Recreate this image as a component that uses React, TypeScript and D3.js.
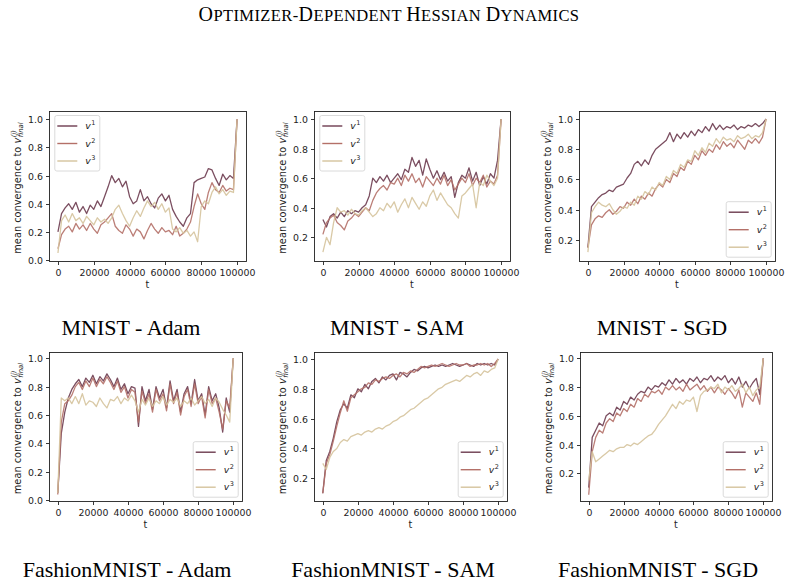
import React, { useRef, useEffect } from 'react';
import * as d3 from 'd3';

// training step at which each value was logged (every 2000 iterations)
const steps = d3.range(0, 100001, 2000);

// MNIST - Adam
const mnistAdamV1 = [
  0.20, 0.33, 0.37, 0.40, 0.36, 0.41, 0.34, 0.38, 0.33, 0.39,
  0.36, 0.42, 0.38, 0.45, 0.52, 0.60, 0.55, 0.58, 0.52, 0.56,
  0.45, 0.40, 0.42, 0.50, 0.42, 0.45, 0.40, 0.37, 0.44, 0.47,
  0.42, 0.46, 0.36, 0.31, 0.27, 0.24, 0.30, 0.33, 0.55, 0.57,
  0.58, 0.59, 0.65, 0.64, 0.58, 0.53, 0.61, 0.57, 0.60, 0.58,
  1.00];
const mnistAdamV2 = [
  0.08, 0.18, 0.22, 0.24, 0.20, 0.26, 0.22, 0.25, 0.21, 0.26,
  0.22, 0.19, 0.25, 0.27, 0.30, 0.33, 0.24, 0.21, 0.19, 0.25,
  0.22, 0.17, 0.22, 0.20, 0.15, 0.21, 0.26, 0.22, 0.19, 0.23,
  0.20, 0.21, 0.18, 0.24, 0.17, 0.19, 0.22, 0.27, 0.38, 0.47,
  0.40, 0.36, 0.48, 0.55, 0.50, 0.48, 0.53, 0.49, 0.51, 0.50,
  1.00];
const mnistAdamV3 = [
  0.05, 0.28, 0.32, 0.27, 0.33, 0.28, 0.30, 0.26, 0.31, 0.28,
  0.25, 0.30, 0.27, 0.29, 0.26, 0.30, 0.36, 0.39, 0.33, 0.28,
  0.24, 0.30, 0.35, 0.31, 0.37, 0.42, 0.38, 0.41, 0.36, 0.40,
  0.34, 0.37, 0.22, 0.20, 0.23, 0.19, 0.21, 0.17, 0.20, 0.13,
  0.38, 0.42, 0.40, 0.48, 0.52, 0.47, 0.50, 0.46, 0.49, 0.48,
  1.00];

// MNIST - SAM
const mnistSamV1 = [
  0.32, 0.27, 0.34, 0.36, 0.33, 0.37, 0.34, 0.38, 0.36, 0.38,
  0.37, 0.40, 0.42, 0.48, 0.60, 0.57, 0.61, 0.58, 0.62, 0.57,
  0.60, 0.63, 0.59, 0.66, 0.64, 0.74, 0.68, 0.72, 0.62, 0.73,
  0.66, 0.60, 0.65, 0.59, 0.64, 0.58, 0.61, 0.47, 0.57, 0.62,
  0.60, 0.67, 0.58, 0.64, 0.55, 0.61, 0.56, 0.63, 0.60, 0.72,
  1.00];
const mnistSamV2 = [
  0.22, 0.30, 0.33, 0.35, 0.30, 0.28, 0.25, 0.31, 0.33, 0.36,
  0.34, 0.37, 0.40, 0.38, 0.45, 0.50, 0.53, 0.55, 0.52, 0.57,
  0.56, 0.60, 0.55, 0.62, 0.58, 0.63, 0.57, 0.60, 0.54, 0.61,
  0.58, 0.55, 0.60, 0.56, 0.62, 0.55, 0.59, 0.52, 0.56, 0.60,
  0.57, 0.63, 0.55, 0.60, 0.57, 0.62, 0.54, 0.58, 0.56, 0.62,
  1.00];
const mnistSamV3 = [
  0.10, 0.20, 0.15, 0.30, 0.40, 0.37, 0.38, 0.35, 0.39, 0.36,
  0.35, 0.38, 0.40, 0.37, 0.34, 0.36, 0.40, 0.38, 0.43, 0.40,
  0.44, 0.37, 0.42, 0.46, 0.40, 0.47, 0.43, 0.39, 0.44, 0.41,
  0.48, 0.52, 0.45, 0.50, 0.46, 0.42, 0.40, 0.36, 0.33, 0.48,
  0.50, 0.53, 0.56, 0.40, 0.57, 0.55, 0.62, 0.58, 0.55, 0.60,
  1.00];

// MNIST - SGD
const mnistSgdV1 = [
  0.15, 0.42, 0.45, 0.48, 0.50, 0.51, 0.53, 0.52, 0.55, 0.56,
  0.57, 0.61, 0.64, 0.70, 0.72, 0.69, 0.73, 0.70, 0.76, 0.80,
  0.82, 0.84, 0.86, 0.91, 0.85, 0.90, 0.87, 0.91, 0.88, 0.92,
  0.89, 0.93, 0.91, 0.95, 0.92, 0.97, 0.93, 0.96, 0.93, 0.95,
  0.94, 0.96, 0.93, 0.95, 0.94, 0.96, 0.95, 0.97, 0.95, 0.97,
  1.00];
const mnistSgdV2 = [
  0.15, 0.30, 0.34, 0.36, 0.35, 0.38, 0.40, 0.37, 0.39, 0.42,
  0.41, 0.45, 0.43, 0.47, 0.44, 0.49, 0.47, 0.51, 0.49, 0.54,
  0.57, 0.55, 0.60, 0.58, 0.64, 0.62, 0.68, 0.66, 0.72, 0.70,
  0.76, 0.73, 0.79, 0.76, 0.80, 0.78, 0.83, 0.80, 0.85, 0.82,
  0.84, 0.81, 0.86, 0.83, 0.80, 0.86, 0.84, 0.87, 0.84, 0.88,
  1.00];
const mnistSgdV3 = [
  0.12, 0.38, 0.42, 0.45, 0.43, 0.42, 0.44, 0.40, 0.37, 0.39,
  0.42, 0.41, 0.45, 0.43, 0.49, 0.47, 0.52, 0.50, 0.55, 0.53,
  0.58, 0.56, 0.62, 0.60, 0.66, 0.64, 0.70, 0.68, 0.73, 0.72,
  0.79, 0.76, 0.81, 0.78, 0.84, 0.82, 0.87, 0.84, 0.88, 0.86,
  0.87, 0.85, 0.89, 0.87, 0.88, 0.90, 0.87, 0.89, 0.88, 0.91,
  1.00];

// FashionMNIST - Adam
const fashionAdamV1 = [
  0.05, 0.47, 0.62, 0.72, 0.78, 0.82, 0.85, 0.80, 0.86, 0.83,
  0.88, 0.82, 0.87, 0.84, 0.89, 0.85, 0.80, 0.86, 0.78, 0.82,
  0.75, 0.80, 0.79, 0.52, 0.80, 0.70, 0.78, 0.64, 0.80, 0.72,
  0.78, 0.65, 0.84, 0.70, 0.78, 0.62, 0.75, 0.80, 0.68, 0.85,
  0.70, 0.75, 0.60, 0.80, 0.70, 0.75, 0.65, 0.48, 0.72, 0.62,
  1.00];
const fashionAdamV2 = [
  0.04, 0.55, 0.68, 0.70, 0.74, 0.80, 0.83, 0.78, 0.84, 0.80,
  0.86, 0.80, 0.85, 0.82, 0.87, 0.83, 0.78, 0.84, 0.76, 0.80,
  0.72, 0.78, 0.76, 0.55, 0.77, 0.68, 0.75, 0.62, 0.78, 0.70,
  0.75, 0.63, 0.82, 0.68, 0.76, 0.60, 0.73, 0.78, 0.66, 0.82,
  0.68, 0.73, 0.58, 0.78, 0.68, 0.72, 0.62, 0.50, 0.70, 0.65,
  1.00];
const fashionAdamV3 = [
  0.05, 0.72, 0.70, 0.72, 0.68, 0.73, 0.68, 0.75, 0.67, 0.70,
  0.69, 0.66, 0.72, 0.68, 0.65, 0.71, 0.70, 0.73, 0.68, 0.72,
  0.70, 0.74, 0.70, 0.62, 0.71, 0.67, 0.72, 0.66, 0.70, 0.68,
  0.73, 0.67, 0.71, 0.69, 0.72, 0.66, 0.70, 0.68, 0.72, 0.67,
  0.70, 0.73, 0.68, 0.71, 0.66, 0.72, 0.69, 0.64, 0.60, 0.55,
  1.00];

// FashionMNIST - SAM
const fashionSamV1 = [
  0.10, 0.32, 0.38, 0.47, 0.58, 0.66, 0.70, 0.67, 0.76, 0.74,
  0.80, 0.78, 0.83, 0.80, 0.85, 0.87, 0.84, 0.88, 0.86, 0.89,
  0.90, 0.86, 0.91, 0.90, 0.88, 0.91, 0.93, 0.92, 0.94, 0.95,
  0.94, 0.95, 0.96, 0.95, 0.96, 0.95, 0.96, 0.97, 0.96, 0.95,
  0.96, 0.97, 0.96, 0.95, 0.97, 0.96, 0.97, 0.96, 0.97, 0.96,
  1.00];
const fashionSamV2 = [
  0.10, 0.30, 0.36, 0.45, 0.55, 0.64, 0.72, 0.65, 0.74, 0.76,
  0.78, 0.80, 0.81, 0.84, 0.83, 0.86, 0.85, 0.87, 0.88, 0.87,
  0.89, 0.90, 0.88, 0.91, 0.90, 0.92, 0.91, 0.93, 0.95, 0.94,
  0.95, 0.96, 0.95, 0.96, 0.97, 0.96, 0.95, 0.96, 0.97, 0.96,
  0.96, 0.97, 0.95, 0.96, 0.96, 0.97, 0.96, 0.97, 0.95, 0.97,
  1.00];
const fashionSamV3 = [
  0.30, 0.26, 0.34, 0.38, 0.40, 0.44, 0.46, 0.45, 0.48, 0.49,
  0.50, 0.49, 0.51, 0.52, 0.51, 0.53, 0.54, 0.53, 0.55, 0.56,
  0.58, 0.59, 0.61, 0.62, 0.64, 0.66, 0.67, 0.69, 0.71, 0.73,
  0.74, 0.76, 0.78, 0.80, 0.81, 0.83, 0.84, 0.85, 0.86, 0.85,
  0.87, 0.89, 0.88, 0.90, 0.91, 0.89, 0.92, 0.91, 0.93, 0.94,
  1.00];

// FashionMNIST - SGD
const fashionSgdV1 = [
  0.10, 0.45, 0.50, 0.55, 0.53, 0.60, 0.62, 0.60, 0.66, 0.64,
  0.70, 0.68, 0.73, 0.71, 0.75, 0.77, 0.76, 0.80, 0.78, 0.81,
  0.80, 0.83, 0.81, 0.85, 0.82, 0.86, 0.83, 0.85, 0.82, 0.86,
  0.84, 0.87, 0.83, 0.86, 0.85, 0.88, 0.84, 0.87, 0.85, 0.88,
  0.83, 0.86, 0.82, 0.87, 0.80, 0.84, 0.79, 0.83, 0.86, 0.75,
  1.00];
const fashionSgdV2 = [
  0.05, 0.35, 0.45, 0.50, 0.48, 0.55, 0.58, 0.56, 0.62, 0.60,
  0.65, 0.63, 0.68, 0.66, 0.72, 0.70, 0.75, 0.73, 0.77, 0.76,
  0.78, 0.75, 0.80, 0.78, 0.81, 0.78, 0.80, 0.77, 0.82, 0.78,
  0.80, 0.82, 0.78, 0.81, 0.77, 0.80, 0.76, 0.80, 0.78, 0.75,
  0.79, 0.76, 0.72, 0.78, 0.66, 0.76, 0.73, 0.70, 0.76, 0.68,
  1.00];
const fashionSgdV3 = [
  0.15, 0.35, 0.28, 0.30, 0.32, 0.34, 0.36, 0.35, 0.37, 0.38,
  0.38, 0.40, 0.39, 0.41, 0.40, 0.42, 0.44, 0.46, 0.47, 0.50,
  0.54, 0.57, 0.60, 0.64, 0.68, 0.65, 0.70, 0.68, 0.71, 0.70,
  0.73, 0.63, 0.74, 0.77, 0.78, 0.80, 0.79, 0.82, 0.76, 0.80,
  0.78, 0.81, 0.77, 0.79, 0.82, 0.76, 0.80, 0.74, 0.78, 0.80,
  1.00];

const seriesNames = ['1', '2', '3'];
const colors = ['#6d3b4f', '#b47068', '#d5c39c'];
const xTicks = [0, 20000, 40000, 60000, 80000, 100000];

// frame = [left, top, width, height] of each axes box
const panels = [
  { caption: 'MNIST - Adam', series: [mnistAdamV1, mnistAdamV2, mnistAdamV3],
    frame: [49, 111, 197, 150], yDomain: [-0.007, 1.059], legend: 'upper left', cx: 131, cy: 335 },
  { caption: 'MNIST - SAM', series: [mnistSamV1, mnistSamV2, mnistSamV3],
    frame: [314, 111, 196, 150], yDomain: [0.04, 1.054], legend: 'upper left', cx: 397, cy: 335 },
  { caption: 'MNIST - SGD', series: [mnistSgdV1, mnistSgdV2, mnistSgdV3],
    frame: [579, 111, 196, 150], yDomain: [0.061, 1.053], legend: 'lower right', cx: 662, cy: 335 },
  { caption: 'FashionMNIST - Adam', series: [fashionAdamV1, fashionAdamV2, fashionAdamV3],
    frame: [49, 352, 193, 149], yDomain: [-0.006, 1.044], legend: 'lower right', cx: 127, cy: 577 },
  { caption: 'FashionMNIST - SAM', series: [fashionSamV1, fashionSamV2, fashionSamV3],
    frame: [314, 352, 193, 149], yDomain: [0.048, 1.047], legend: 'lower right', cx: 393, cy: 577 },
  { caption: 'FashionMNIST - SGD', series: [fashionSgdV1, fashionSgdV2, fashionSgdV3],
    frame: [580, 352, 192, 149], yDomain: [0.007, 1.044], legend: 'lower right', cx: 658, cy: 577 },
];

const tickFont = '"DejaVu Sans", sans-serif';
const serifFont = '"Liberation Serif", "Times New Roman", serif';

const drawPanel = (svg, p) => {
  const [left, top, w, h] = p.frame;
  const x = d3.scaleLinear().domain([-5000, 105000]).range([left, left + w]);
  const y = d3.scaleLinear().domain(p.yDomain).range([top + h, top]);

  const g = svg.append('g');

  // lines, v1 first so v3 ends up on top
  const line = d3.line()
    .x((d, i) => x(steps[i]))
    .y(d => y(d));
  p.series.forEach((vals, k) => {
    g.append('path')
      .datum(vals)
      .attr('d', line)
      .attr('fill', 'none')
      .attr('stroke', colors[k])
      .attr('stroke-width', 1.3)
      .attr('stroke-opacity', 0.9)
      .attr('stroke-linejoin', 'round');
  });

  // frame
  g.append('rect')
    .attr('x', left + 0.5)
    .attr('y', top + 0.5)
    .attr('width', w)
    .attr('height', h)
    .attr('fill', 'none')
    .attr('stroke', '#222')
    .attr('stroke-width', 0.9);

  // x axis
  const xt = g.append('g');
  xTicks.forEach(t => {
    const px = Math.round(x(t)) + 0.5;
    xt.append('line')
      .attr('x1', px).attr('x2', px)
      .attr('y1', top + h + 0.5).attr('y2', top + h + 4)
      .attr('stroke', '#222').attr('stroke-width', 0.9);
    xt.append('text')
      .attr('x', px)
      .attr('y', top + h + 14.5)
      .attr('text-anchor', 'middle')
      .style('font-family', tickFont)
      .style('font-size', '9.4px')
      .attr('fill', '#222')
      .text(String(t));
  });
  g.append('text')
    .attr('x', left + w / 2)
    .attr('y', top + h + 27)
    .attr('text-anchor', 'middle')
    .style('font-family', tickFont)
    .style('font-size', '9.6px')
    .attr('fill', '#222')
    .text('t');

  // y axis
  const yTicks = d3.range(0, 1.001, 0.2).filter(v => v >= p.yDomain[0] && v <= p.yDomain[1]);
  yTicks.forEach(v => {
    const py = Math.round(y(v)) + 0.5;
    g.append('line')
      .attr('x1', left - 3).attr('x2', left + 0.5)
      .attr('y1', py).attr('y2', py)
      .attr('stroke', '#222').attr('stroke-width', 0.9);
    g.append('text')
      .attr('x', left - 6)
      .attr('y', py)
      .attr('dy', '0.35em')
      .attr('text-anchor', 'end')
      .style('font-family', tickFont)
      .style('font-size', '9.4px')
      .attr('fill', '#222')
      .text(d3.format('.1f')(v));
  });

  // y label: mean convergence to v_final^(j)
  const yl = g.append('text')
    .attr('transform', `translate(${left - 28},${top + h / 2 + 2}) rotate(-90)`)
    .attr('text-anchor', 'middle')
    .style('font-family', tickFont)
    .style('font-size', '9.8px')
    .attr('fill', '#222');
  yl.append('tspan').text('mean convergence to ');
  yl.append('tspan').style('font-style', 'italic').text('v');
  yl.append('tspan').style('font-style', 'italic').style('font-size', '6.9px')
    .attr('dy', -5).attr('dx', 0.5).text('(j)');
  yl.append('tspan').style('font-style', 'italic').style('font-size', '6.9px')
    .attr('dy', 7).attr('dx', -7.3).text('final');

  // legend
  const lw = 45, lh = 55.5;
  const lx = p.legend === 'upper left' ? left + 5.3 : left + w - 4.3 - lw;
  const ly = p.legend === 'upper left' ? top + 4 : top + h - 4.3 - lh;
  const leg = g.append('g');
  leg.append('rect')
    .attr('x', lx + 0.5).attr('y', ly + 0.5)
    .attr('width', lw).attr('height', lh)
    .attr('rx', 2)
    .attr('fill', '#fff').attr('fill-opacity', 0.85)
    .attr('stroke', '#d6d6d6').attr('stroke-width', 0.9);
  seriesNames.forEach((name, k) => {
    const ry = ly + 11 + k * 17.5;
    leg.append('line')
      .attr('x1', lx + 3).attr('x2', lx + 23)
      .attr('y1', ry).attr('y2', ry)
      .attr('stroke', colors[k]).attr('stroke-width', 1.4);
    const t = leg.append('text')
      .attr('x', lx + 31)
      .attr('y', ry + 3)
      .style('font-family', tickFont)
      .style('font-size', '9.4px')
      .attr('fill', '#222');
    t.append('tspan').style('font-style', 'italic').text('v');
    t.append('tspan').style('font-size', '6.5px').attr('dy', -4).attr('dx', 0.4).text(name);
  });

  // caption under the panel
  svg.append('text')
    .attr('x', p.cx)
    .attr('y', p.cy)
    .attr('text-anchor', 'middle')
    .style('font-family', serifFont)
    .style('font-size', '22px')
    .attr('fill', '#000')
    .text(p.caption);
};

const App = () => {
  const ref = useRef(null);

  useEffect(() => {
    const svg = d3.select(ref.current);
    svg.selectAll('*').remove();

    svg.append('rect').attr('width', 791).attr('height', 583).attr('fill', '#fff');

    // small-caps title, built from big and small capitals
    const title = svg.append('text')
      .attr('x', 389)
      .attr('y', 21)
      .attr('text-anchor', 'middle')
      .style('font-family', serifFont)
      .style('letter-spacing', '0.4px')
      .attr('fill', '#000');
    const titleParts = [['O', 1], ['PTIMIZER-', 0], ['D', 1], ['EPENDENT ', 0], ['H', 1], ['ESSIAN ', 0], ['D', 1], ['YNAMICS', 0]];
    titleParts.forEach(([s, big]) => {
      title.append('tspan').style('font-size', big ? '20px' : '16.5px').text(s);
    });

    panels.forEach(p => drawPanel(svg, p));
  }, []);

  return <svg ref={ref} width={791} height={583} style={{ position: 'absolute', left: 0, top: 0 }} />;
};

export default App;
